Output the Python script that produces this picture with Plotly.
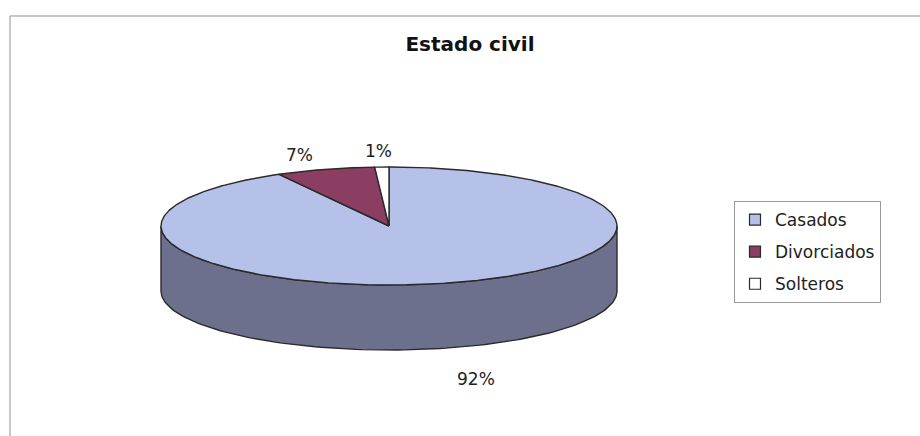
import numpy as np
import plotly.graph_objects as go

# ---- data ----
categories = ["Casados", "Divorciados", "Solteros"]
values = [92, 7, 1]
label_text = ["92%", "7%", "1%"]
title_text = "Estado civil"

# ---- style / geometry (pixel space of the figure) ----
W, H = 920, 436
CX, CY = 389, 226          # centre of the top face
RA, RB = 228, 59           # ellipse semi-axes
DEPTH = 65                 # pie thickness
top_colors = ["#B6C1EA", "#8C3E62", "#FFFFFF"]
side_color = "#6C708C"
edge = "#2A2A2A"
FONT = "DejaVu Sans"


def pt(theta_deg, rx=RA, ry=RB, dy=0.0):
    t = np.radians(theta_deg)
    return CX + rx * np.sin(t), CY - ry * np.cos(t) + dy


fig = go.Figure()

# side wall of the front half (all of it belongs to the first slice)
th_front = np.linspace(90, 270, 120)
xs_t, ys_t = pt(th_front)
xs_b, ys_b = pt(th_front[::-1], dy=DEPTH)
fig.add_trace(go.Scatter(
    x=np.concatenate([xs_t, xs_b, xs_t[:1]]),
    y=np.concatenate([ys_t, ys_b, ys_t[:1]]),
    mode="lines", fill="toself", fillcolor=side_color,
    line=dict(color=edge, width=1.4), showlegend=False, hoverinfo="skip"))

# top face slices, clockwise from 12 o'clock
total = float(sum(values))
start = 0.0
mids = []
for cat, v, col in zip(categories, values, top_colors):
    span = 360.0 * v / total
    th = np.linspace(start, start + span, max(4, int(span * 2)))
    ax, ay = pt(th)
    fig.add_trace(go.Scatter(
        x=np.concatenate([[CX], ax, [CX]]),
        y=np.concatenate([[CY], ay, [CY]]),
        mode="lines", fill="toself", fillcolor=col,
        line=dict(color=edge, width=1.4), showlegend=False,
        name=cat, hoverinfo="name"))
    mids.append(start + span / 2)
    start += span

# percentage labels placed outside each slice
for txt, m in zip(label_text, mids):
    k = 1.4
    lx, ly = pt(m, rx=RA * k, ry=RB * k, dy=8)
    if np.cos(np.radians(m)) < 0:
        ly += DEPTH
        lx += 8
    fig.add_annotation(x=lx, y=ly, text=txt, showarrow=False,
                       font=dict(family=FONT, size=17, color="#222"),
                       xref="x", yref="y")

# legend entries
for i, (cat, col) in enumerate(zip(categories, top_colors)):
    fig.add_trace(go.Scatter(
        x=[None], y=[None], mode="markers", name=cat,
        legendgroup=f"g{i}",
        marker=dict(symbol="square", size=11, color=col,
                    line=dict(color=edge, width=1.2))))

# chart-area frame (top and left edges visible)
fig.add_shape(type="line", xref="paper", yref="paper", x0=10 / W, x1=1,
              y0=1 - 16 / H, y1=1 - 16 / H, line=dict(color="#B5B5B5", width=1.5))
fig.add_shape(type="line", xref="paper", yref="paper", x0=10 / W, x1=10 / W,
              y0=0, y1=1 - 16 / H, line=dict(color="#B5B5B5", width=1.5))

fig.update_layout(
    width=W, height=H,
    margin=dict(l=0, r=0, t=0, b=0),
    paper_bgcolor="white", plot_bgcolor="white",
    title=dict(text=f"<b>{title_text}</b>", x=470 / W, xanchor="center",
               y=1 - 44 / H, yanchor="middle",
               font=dict(family=FONT, size=20, color="#111")),
    xaxis=dict(range=[0, W], visible=False, fixedrange=True),
    yaxis=dict(range=[H, 0], visible=False, fixedrange=True),
    legend=dict(x=734 / W, y=1 - 201 / H, xanchor="left", yanchor="top",
                bordercolor="#9A9A9A", borderwidth=1, bgcolor="white",
                font=dict(family=FONT, size=17, color="#222"),
                traceorder="grouped", tracegroupgap=7, itemwidth=30),
    showlegend=True,
)

fig.write_html("out.html", config={"displayModeBar": False},
               post_script="document.body.style.margin='0';")
